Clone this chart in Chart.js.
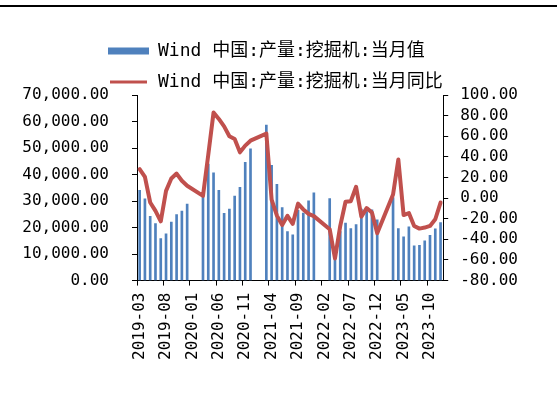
<!DOCTYPE html>
<html>
<head>
<meta charset="utf-8">
<script src="https://cdn.jsdelivr.net/npm/chart.js@4/dist/chart.umd.min.js"></script>
<style>
  html, body { margin: 0; padding: 0; background: #fff; }
  #wrap { position: relative; width: 557px; height: 405px; }
  #topline { position: absolute; left: 0; top: 5px; width: 557px; height: 2px; background: #000; }
  canvas { position: absolute; left: 0; top: 0; }
</style>
</head>
<body>
<div id="wrap">
  <canvas id="c" width="557" height="405"></canvas>
  <div id="topline"></div>
</div>
<script>
const categories = [
  '2019-03','2019-04','2019-05','2019-06','2019-07','2019-08','2019-09','2019-10','2019-11','2019-12',
  '2020-01','2020-02','2020-03','2020-04','2020-05','2020-06','2020-07','2020-08','2020-09','2020-10','2020-11','2020-12',
  '2021-01','2021-02','2021-03','2021-04','2021-05','2021-06','2021-07','2021-08','2021-09','2021-10','2021-11','2021-12',
  '2022-01','2022-02','2022-03','2022-04','2022-05','2022-06','2022-07','2022-08','2022-09','2022-10','2022-11','2022-12',
  '2023-01','2023-02','2023-03','2023-04','2023-05','2023-06','2023-07','2023-08','2023-09','2023-10','2023-11','2023-12'
];

const monthlyOutput = [
  34000, 30800, 24200, 21500, 15800, 17600, 22100, 24900, 26200, 28900,
  null, null, 31500, 43900, 40600, 34000, 25400, 27000, 31900, 35200, 44600, 49700,
  null, null, 58700, 43500, 36300, 27500, 18500, 17300, 26500, 25500, 30100, 33100,
  null, null, 30900, 8500, 18500, 21700, 19650, 21100, 27000, 26000, 26700, 22900,
  null, null, 31300, 19650, 16500, 20300, 13100, 13300, 15000, 17100, 19500, 21900
];

const yoyChange = [
  28, 20.5, -4.3, -12.4, -22.5, 7, 19, 23.8, 16.8, 12,
  null, null, 2.2, 42, 83, 76.8, 69.6, 60, 57.4, 44.4, 50.9, 55.7,
  null, null, 62.5, -1.5, -17, -26, -17.2, -25, -5.4, -11, -15.3, -17.5,
  null, null, -30.2, -58.6, -27, -3.5, -3, 11, -18, -9.7, -14, -34,
  null, null, 3.5, 37.5, -16.5, -14.5, -27, -29.6, -28.6, -27, -20.5, -4.3
];

const seriesNames = ['Wind 中国:产量:挖掘机:当月值', 'Wind 中国:产量:挖掘机:当月同比'];
const leftTicks = [0, 10000, 20000, 30000, 40000, 50000, 60000, 70000];
const rightTicks = [-80, -60, -40, -20, 0, 20, 40, 60, 80, 100];

const BLUE = '#4F81BD';
const RED = '#C0504D';
const FAMILY = '"DejaVu Sans Mono", "Noto Sans CJK SC", monospace';
const fmt2 = v => Number(v).toLocaleString('en-US', { minimumFractionDigits: 2, maximumFractionDigits: 2 });

const legendShift = {
  id: 'legendShift',
  afterLayout(chart) {
    const lg = chart.legend;
    if (!lg) return;
    const w = lg.right - lg.left;
    lg.left = 95;
    lg.right = 95 + w;
  }
};

new Chart(document.getElementById('c'), {
  data: {
    labels: categories,
    datasets: [
      {
        type: 'bar',
        label: seriesNames[0],
        data: monthlyOutput,
        backgroundColor: BLUE,
        barThickness: 2,
        yAxisID: 'y',
        order: 2
      },
      {
        type: 'line',
        label: seriesNames[1],
        data: yoyChange,
        borderColor: RED,
        backgroundColor: RED,
        borderWidth: 4,
        pointRadius: 0,
        tension: 0,
        spanGaps: true,
        borderJoinStyle: 'round',
        borderCapStyle: 'round',
        yAxisID: 'y1',
        order: 1
      }
    ]
  },
  options: {
    responsive: false,
    animation: false,
    devicePixelRatio: 1,
    layout: { padding: { top: 29, left: 6, right: 27, bottom: 38 } },
    plugins: {
      tooltip: { enabled: false },
      legend: {
        position: 'top',
        align: 'start',
        maxHeight: 66,
        labels: {
          boxWidth: 41,
          boxHeight: 7,
          padding: 13,
          color: '#000',
          font: { family: FAMILY, size: 18 },
          generateLabels: () => [
            { text: seriesNames[0], fillStyle: BLUE, strokeStyle: BLUE, lineWidth: 0, datasetIndex: 0 },
            { text: seriesNames[1], fillStyle: RED, strokeStyle: '#ffffff', lineWidth: 4, datasetIndex: 1 }
          ]
        }
      }
    },
    scales: {
      x: {
        type: 'category',
        offset: true,
        grid: {
          display: true,
          offset: true,
          drawOnChartArea: false,
          drawTicks: true,
          tickLength: 5,
          color: ctx => (ctx.index % 5 === 0 && ctx.index < categories.length) ? '#000' : 'rgba(0,0,0,0)',
          tickColor: ctx => (ctx.index % 5 === 0 && ctx.index < categories.length) ? '#000' : 'rgba(0,0,0,0)'
        },
        border: { display: true, color: '#000', width: 1 },
        ticks: {
          autoSkip: false,
          minRotation: 90,
          maxRotation: 90,
          padding: 7,
          color: '#000',
          font: { family: FAMILY, size: 16 },
          callback: function (v, i) { return i % 5 === 0 ? categories[i] : ''; }
        }
      },
      y: {
        type: 'linear',
        position: 'left',
        min: leftTicks[0],
        max: leftTicks[leftTicks.length - 1],
        afterBuildTicks: axis => { axis.ticks = leftTicks.map(v => ({ value: v })); },
        grid: { drawOnChartArea: false, drawTicks: true, tickLength: 5, color: '#000' },
        border: { display: true, color: '#000', width: 1 },
        ticks: {
          autoSkip: false,
          padding: 23,
          color: '#000',
          font: { family: FAMILY, size: 16 },
          callback: v => fmt2(v)
        }
      },
      y1: {
        type: 'linear',
        position: 'right',
        min: rightTicks[0],
        max: rightTicks[rightTicks.length - 1],
        afterBuildTicks: axis => { axis.ticks = rightTicks.map(v => ({ value: v })); },
        grid: { drawOnChartArea: false, drawTicks: true, tickLength: 5, color: '#000' },
        border: { display: true, color: '#000', width: 1 },
        ticks: {
          autoSkip: false,
          padding: 12,
          color: '#000',
          font: { family: FAMILY, size: 16 },
          callback: v => fmt2(v)
        }
      }
    }
  },
  plugins: [legendShift]
});
</script>
</body>
</html>
